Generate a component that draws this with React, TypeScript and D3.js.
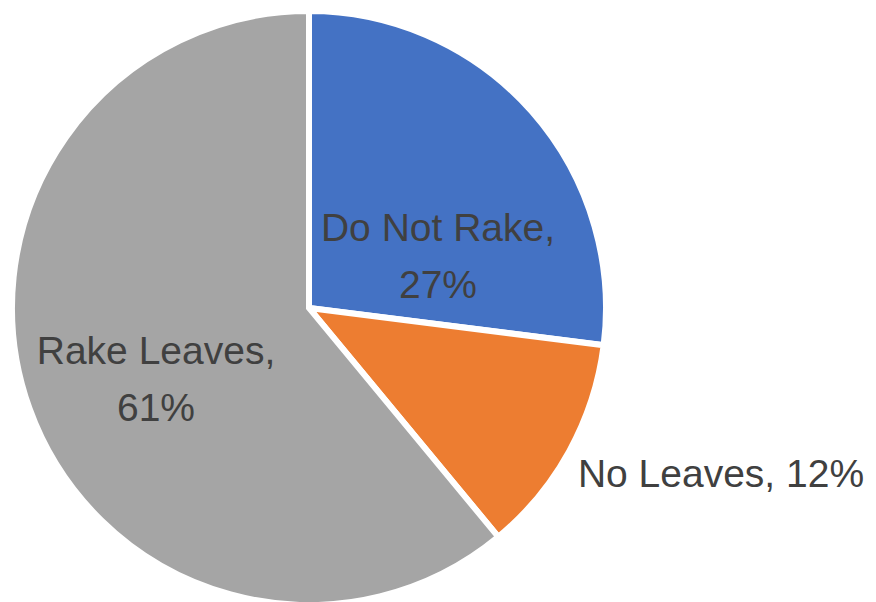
import React from "react";
import * as d3 from "d3";

const categories = ["Do Not Rake", "No Leaves", "Rake Leaves"];
const values = [27, 12, 61];
const colors = ["#4472C4", "#ED7D31", "#A5A5A5"];
const percentLabels = ["27%", "12%", "61%"];

// label layout (positions of label text anchors, multiline flag)
const labelLayout = [
  { x: 438, y: 241, multiline: true },
  { x: 721, y: 487, multiline: false },
  { x: 156, y: 364, multiline: true },
];

const W = 876;
const H = 602;
const cx = 309;
const cy = 308;
const R = 297;

export default function App() {
  const pie = d3
    .pie<number>()
    .sort(null)
    .value((d) => d)
    .startAngle(0)
    .endAngle(2 * Math.PI);
  const arcs = pie(values);
  const arc = d3.arc<d3.PieArcDatum<number>>().innerRadius(0).outerRadius(R);

  return (
    <svg
      width={W}
      height={H}
      style={{ position: "absolute", left: 0, top: 0, background: "#fff" }}
    >
      <g transform={`translate(${cx},${cy})`}>
        {arcs.map((a, i) => (
          <path
            key={i}
            d={arc(a) || ""}
            fill={colors[i]}
            stroke="#ffffff"
            strokeWidth={6}
            strokeLinejoin="miter"
          />
        ))}
      </g>
      {categories.map((c, i) => {
        const l = labelLayout[i];
        return (
          <text
            key={c}
            x={l.x}
            y={l.y}
            textAnchor="middle"
            fontFamily="'Liberation Sans', Arial, sans-serif"
            fontSize={39}
            fill="#404040"
          >
            {l.multiline ? (
              <>
                <tspan x={l.x}>{c},</tspan>
                <tspan x={l.x} dy={57}>
                  {percentLabels[i]}
                </tspan>
              </>
            ) : (
              `${c}, ${percentLabels[i]}`
            )}
          </text>
        );
      })}
    </svg>
  );
}
